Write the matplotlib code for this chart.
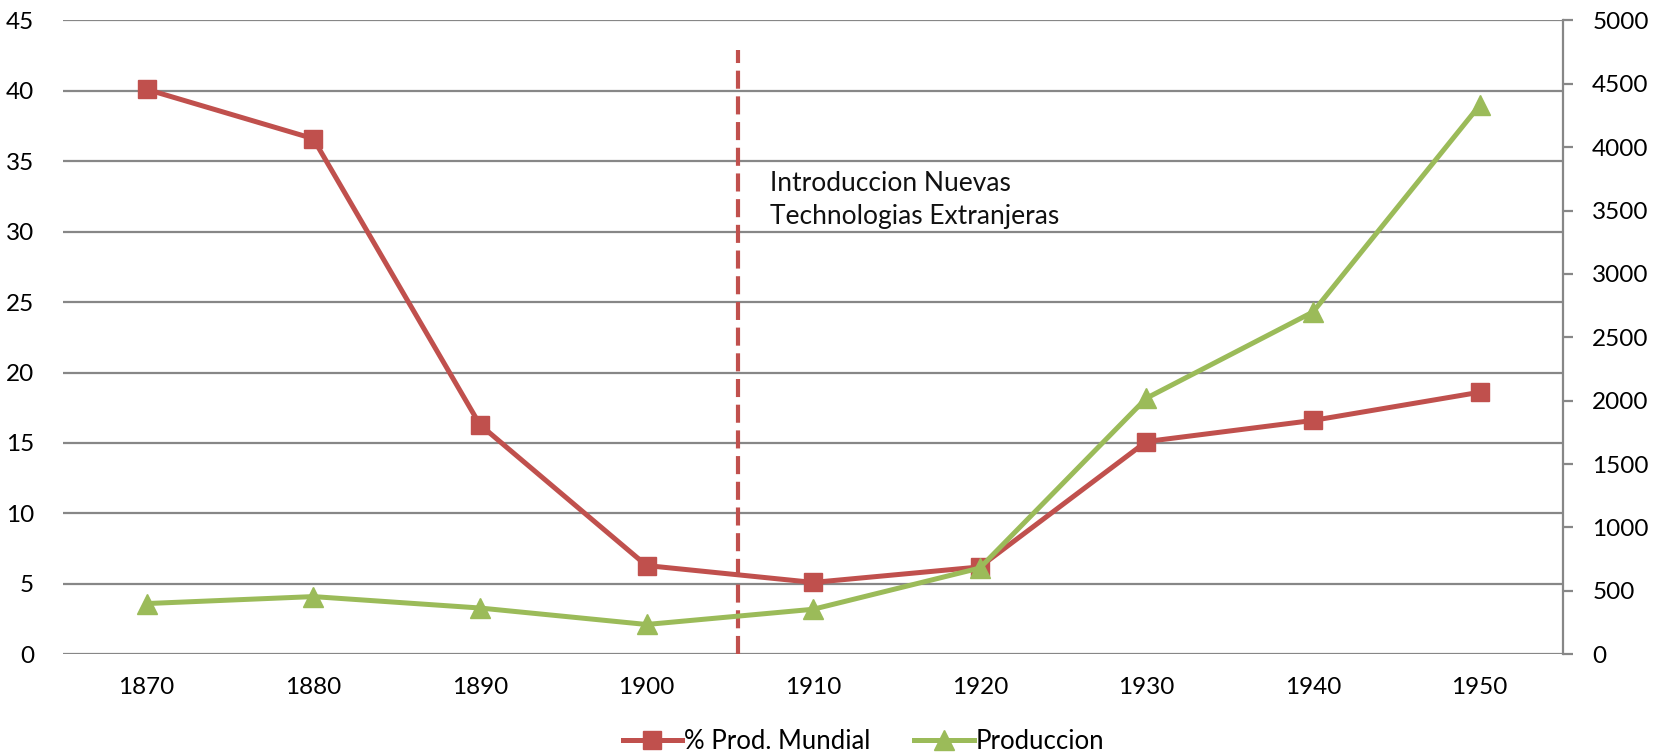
import matplotlib
matplotlib.use('Agg')
import matplotlib.pyplot as plt
import numpy as np

# --- data ---
years = ['1870', '1880', '1890', '1900', '1910', '1920', '1930', '1940', '1950']
pct_mundial = [40.1, 36.6, 16.3, 6.3, 5.1, 6.2, 15.1, 16.6, 18.6]
produccion = [400, 455, 365, 235, 355, 680, 2020, 2700, 4330]
event_pos = 3.55          # between 1900 and 1910
event_top = 42.9
event_text = 'Introduccion Nuevas\nTechnologias Extranjeras'

red = '#C0504D'
green = '#9BBB59'
grid_col = '#878787'

plt.rcParams['font.family'] = ['Lato', 'DejaVu Sans']
plt.rcParams['lines.scale_dashes'] = False

fig = plt.figure(figsize=(16.61, 7.55), dpi=100)
ax = fig.add_axes([0.0381, 0.1334, 0.9029, 0.8397])
ax2 = ax.twinx()

x = np.arange(len(years))

# gridlines (left axis)
ax.set_ylim(0, 45)
ax.set_yticks(np.arange(0, 46, 5))
ax.yaxis.grid(True, color=grid_col, linewidth=1.6)
ax.set_axisbelow(True)

l1, = ax.plot(x, pct_mundial, color=red, linewidth=3.6, marker='s',
              markersize=13, label='% Prod. Mundial', zorder=3)
ax.plot([event_pos, event_pos], [0, event_top], color=red, linewidth=3.0,
        dashes=(13, 5.5), zorder=2)
ax.text(event_pos + 0.19, 34.3, event_text, fontsize=19, va='top',
        ha='left', linespacing=1.42, color='#111111')

l2, = ax2.plot(x, produccion, color=green, linewidth=3.6, marker='^',
               markersize=15, label='Produccion', zorder=3)
ax2.set_ylim(0, 5000)
ax2.set_yticks(np.arange(0, 5001, 500))

ax.set_xlim(-0.5, len(years) - 0.5)
ax.set_xticks(x)
ax.set_xticklabels(years)

for a in (ax, ax2):
    for s in ('top', 'left', 'bottom'):
        a.spines[s].set_visible(False)
ax.spines['right'].set_visible(False)
ax2.spines['right'].set_color(grid_col)
ax2.spines['right'].set_linewidth(1.6)

ax.tick_params(axis='y', length=0, pad=21, labelsize=17.5)
ax.tick_params(axis='x', length=0, pad=16, labelsize=17.5)
ax2.tick_params(axis='y', length=7, width=1.6, color=grid_col, pad=14,
                labelsize=17.5)

fig.legend(handles=[l1, l2], loc='center', bbox_to_anchor=(0.52, 0.018),
           ncol=2, frameon=False, fontsize=18.5, handlelength=2.3,
           handletextpad=0.1, columnspacing=1.7, markerscale=1.0)

fig.savefig('out.png', dpi=100)
